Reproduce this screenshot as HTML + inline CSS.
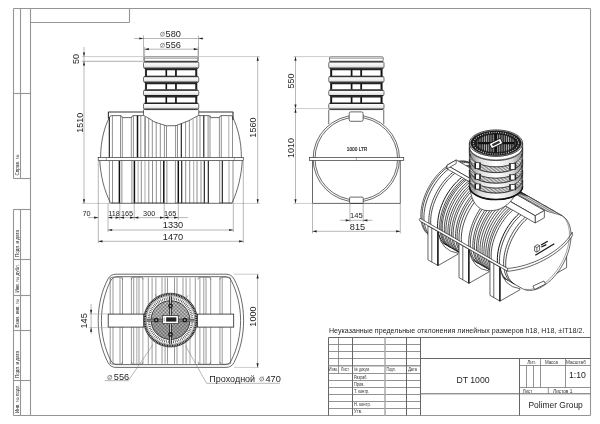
<!DOCTYPE html>
<html><head><meta charset="utf-8"><style>
html,body{margin:0;padding:0;background:#fff;width:600px;height:424px;overflow:hidden}
svg{display:block;filter:grayscale(1)}
text{font-family:"Liberation Sans",sans-serif;fill:#222}
.t{fill:#1e1e1e}
.ts{fill:#2a2a2a} .tsl{fill:#ddd}
.tph{fill:#999}
.tsm{fill:#333}
.tb{fill:#111;stroke:#111;stroke-width:0.15}
.fr{stroke:#959595;stroke-width:1.1;fill:none}
.o{stroke:#2a2a2a;stroke-width:0.7;fill:none}
.o2{stroke:#333;stroke-width:1.1;fill:none}
.bf{fill:#fff;stroke:none}
.bf2{fill:#fff;stroke:none}
.rb{stroke:#444;stroke-width:0.6}
.rbk{stroke:#151515;stroke-width:1.1}
.rbg{stroke:#aaa;stroke-width:1}
.rbK{stroke:#111;stroke-width:1.5}
.rbG{stroke:#999;stroke-width:1.8}
.th{stroke:#555;stroke-width:0.5}
.sh{stroke:#999;stroke-width:0.8}
.dk{stroke:#222;stroke-width:1}
.dk2{stroke:#222;stroke-width:1.5}
.thk{stroke:#111;stroke-width:1.6}
.nk{fill:#fff;stroke:#444;stroke-width:0.7}
.ring{fill:url(#rg);stroke:#333;stroke-width:0.7}
.box{fill:#fff;stroke:#333;stroke-width:0.7}
.boxm{fill:#f4f4f4;stroke:#555;stroke-width:0.5}
.belt{fill:#fff;stroke:#333;stroke-width:0.7}
.strap{fill:#fff;stroke:#222;stroke-width:0.8}
.rbp{stroke:#555;stroke-width:0.6;fill:none}
.dm{stroke:#7c7c7c;stroke-width:0.55;fill:none}
.ex{stroke:#aaa;stroke-width:0.6;fill:none}
.ex2{stroke:#777;stroke-width:0.6;fill:none}
.ar{fill:#222;stroke:none}
.sp{stroke:#222;stroke-width:2.6}
.spw{stroke:#eee;stroke-width:0.8}
.tb1{stroke:#666;stroke-width:1;fill:none}
.tbt{stroke:#777;stroke-width:0.8;fill:none}
.tbg{stroke:#aaa;stroke-width:1.5;fill:none}
.tbg2{stroke:#999;stroke-width:1.5;fill:none}
.io{stroke:#222;stroke-width:0.7;fill:none}
.ir{stroke:#111;stroke-width:0.75;fill:none}
.irk{stroke:#111;stroke-width:1.0;fill:none}
.ir2{stroke:#333;stroke-width:0.45;fill:none}
.iw{fill:#fff;stroke:#222;stroke-width:0.7}
.thk2{stroke:#111;stroke-width:1.1}
.lg{stroke:#333;stroke-width:0.9}
.hatchb{fill:url(#hb);stroke:#333;stroke-width:0.5}
</style></head><body>
<svg width="600" height="424" viewBox="0 0 600 424">
<defs>
<linearGradient id="rg" x1="0" y1="0" x2="0" y2="1"><stop offset="0" stop-color="#fff"/><stop offset="0.5" stop-color="#f2f2f2"/><stop offset="1" stop-color="#ccc"/></linearGradient>
<pattern id="dots" width="1.6" height="1.6" patternUnits="userSpaceOnUse"><rect width="1.6" height="1.6" fill="#bbb"/><rect width="0.8" height="0.8" fill="#555"/></pattern>
<pattern id="hatch" width="1.5" height="1.5" patternUnits="userSpaceOnUse"><rect width="1.5" height="1.5" fill="#999"/><rect width="0.7" height="0.7" fill="#444"/></pattern>
<linearGradient id="nrg" x1="0" y1="0" x2="1" y2="0"><stop offset="0" stop-color="#888"/><stop offset="0.2" stop-color="#ddd"/><stop offset="0.5" stop-color="#fff"/><stop offset="0.8" stop-color="#ddd"/><stop offset="1" stop-color="#888"/></linearGradient>
<linearGradient id="nrg2" x1="0" y1="0" x2="1" y2="0"><stop offset="0" stop-color="#999"/><stop offset="0.25" stop-color="#e4e4e4"/><stop offset="0.5" stop-color="#fff"/><stop offset="0.75" stop-color="#e4e4e4"/><stop offset="1" stop-color="#999"/></linearGradient>
<pattern id="lidp" width="2" height="2" patternUnits="userSpaceOnUse"><rect width="2" height="2" fill="#444"/><rect width="1" height="1" fill="#bbb"/></pattern>
<pattern id="hb" width="1.6" height="1.6" patternUnits="userSpaceOnUse" patternTransform="rotate(30)"><rect width="1.6" height="1.6" fill="#ddd"/><rect width="1.6" height="0.6" fill="#666"/></pattern>
<pattern id="nh" width="1.4" height="1.4" patternUnits="userSpaceOnUse" patternTransform="rotate(-20)"><rect width="1.4" height="1.4" fill="#e6e6e6"/><rect width="1.4" height="0.55" fill="#666"/></pattern>
<pattern id="lidst" width="2.2" height="4" patternUnits="userSpaceOnUse"><rect width="2.2" height="4" fill="#2a2a2a"/><rect width="0.8" height="4" fill="#bbb"/></pattern>
<pattern id="chk" width="1.4" height="1.4" patternUnits="userSpaceOnUse"><rect width="1.4" height="1.4" fill="#e8e8e8"/><rect width="0.7" height="0.7" fill="#555"/><rect x="0.7" y="0.7" width="0.7" height="0.7" fill="#555"/></pattern>
</defs>
<rect width="600" height="424" fill="#fff"/>
<line x1="13.5" y1="8.5" x2="590.5" y2="8.5" class="fr"/>
<line x1="590.5" y1="8.5" x2="590.5" y2="415.5" class="fr"/>
<line x1="13.5" y1="415.5" x2="590.5" y2="415.5" class="fr"/>
<line x1="30.5" y1="8.5" x2="30.5" y2="415.5" class="fr"/>
<line x1="13.5" y1="8.5" x2="13.5" y2="178.5" class="fr"/>
<line x1="13.5" y1="209.5" x2="13.5" y2="415.5" class="fr"/>
<line x1="20.5" y1="8.5" x2="20.5" y2="178.5" class="fr"/>
<line x1="20.5" y1="209.5" x2="20.5" y2="415.5" class="fr"/>
<line x1="13.5" y1="93.5" x2="30.5" y2="93.5" class="fr"/>
<line x1="13.5" y1="178.5" x2="30.5" y2="178.5" class="fr"/>
<line x1="13.5" y1="209.5" x2="30.5" y2="209.5" class="fr"/>
<line x1="13.5" y1="259.5" x2="30.5" y2="259.5" class="fr"/>
<line x1="13.5" y1="295.5" x2="30.5" y2="295.5" class="fr"/>
<line x1="13.5" y1="330.5" x2="30.5" y2="330.5" class="fr"/>
<line x1="13.5" y1="380.5" x2="30.5" y2="380.5" class="fr"/>
<line x1="30.5" y1="22.5" x2="129.5" y2="22.5" class="fr"/>
<line x1="129.5" y1="8.5" x2="129.5" y2="22.5" class="fr"/>
<text x="19.2" y="175.5" font-size="4.6" text-anchor="start" class="ts" transform="rotate(-90 19.2 175.5)" >Справ. №</text>
<text x="19.2" y="257" font-size="4.6" text-anchor="start" class="ts" transform="rotate(-90 19.2 257)" >Подп. и дата</text>
<text x="19.2" y="292.5" font-size="4.6" text-anchor="start" class="ts" transform="rotate(-90 19.2 292.5)" >Инв. № дубл.</text>
<text x="19.2" y="327.5" font-size="4.6" text-anchor="start" class="ts" transform="rotate(-90 19.2 327.5)" >Взам. инв. №</text>
<text x="19.2" y="378" font-size="4.6" text-anchor="start" class="ts" transform="rotate(-90 19.2 378)" >Подп. и дата</text>
<text x="19.2" y="413" font-size="4.6" text-anchor="start" class="ts" transform="rotate(-90 19.2 413)" >Инв. № подл.</text>
<path d="M109.5,116.5 C104,128 100.5,142 100.5,157 C100.5,172 104,190 110.5,203.3 L232.3,203.3 C238,190 241.5,172 241.5,157 C241.5,142 238,128 232.6,116.5 Z" class="bf" />
<path d="M109.3,117.5 C104.5,127 100.6,141 100.6,157.5" class="o" />
<path d="M99.8,160.6 C100.5,175 104,190 110.3,202.5" class="o" />
<path d="M232.8,117.5 C237.5,127 241.4,141 241.4,157.5" class="o" />
<path d="M242.3,160.6 C241.5,175 238,190 232.3,202.5" class="o" />
<path d="M109.4,118 Q109.6,115.6 111.6,115.6 L120.5,115.6 Q122,115.6 122.2,117.6 L131.5,117.6 Q131.7,115.6 133.5,115.6 L143.5,115.6" class="o" />
<path d="M198.75,115.6 L208.6,115.6 Q210.4,115.6 210.6,117.6 L219.4,117.6 Q219.6,115.6 221.4,115.6 L231,115.6 Q232.8,115.6 232.8,118" class="o" />
<path d="M143.5,109.6 L143.5,115.4 L146,116.7 L150,119 L153.8,121.6 L160,123.8 L166.5,125.8 L176,125.6 L182,123.3 L189,120.6 L194,117.8 L196.3,116.6 L198.75,115.4 L198.75,109.6" class="o" />
<line x1="109.3" y1="117.6" x2="109.3" y2="157.5" class="rbk"/>
<line x1="112.4" y1="115.6" x2="112.4" y2="157.5" class="rb"/>
<line x1="120.5" y1="115.6" x2="120.5" y2="157.5" class="rb"/>
<line x1="122.3" y1="117.6" x2="122.3" y2="157.5" class="rb"/>
<line x1="131.3" y1="117.6" x2="131.3" y2="157.5" class="rb"/>
<line x1="133.4" y1="115.6" x2="133.4" y2="157.5" class="rb"/>
<line x1="137.5" y1="115.6" x2="137.5" y2="157.5" class="rbK"/>
<line x1="140.8" y1="115.6" x2="140.8" y2="157.5" class="rb"/>
<line x1="145.1" y1="116.23" x2="145.1" y2="157.5" class="rbG"/>
<line x1="148.7" y1="118.25" x2="148.7" y2="157.5" class="rb"/>
<line x1="152.3" y1="120.57" x2="152.3" y2="157.5" class="rb"/>
<line x1="156.2" y1="122.45" x2="156.2" y2="157.5" class="rb"/>
<line x1="160.3" y1="123.89" x2="160.3" y2="157.5" class="rb"/>
<line x1="164.4" y1="125.15" x2="164.4" y2="157.5" class="rb"/>
<line x1="166.5" y1="125.8" x2="166.5" y2="157.5" class="rb"/>
<line x1="175.6" y1="125.61" x2="175.6" y2="157.5" class="rb"/>
<line x1="177.5" y1="125.02" x2="177.5" y2="157.5" class="rb"/>
<line x1="181.3" y1="123.57" x2="181.3" y2="157.5" class="rbk"/>
<line x1="185.6" y1="121.91" x2="185.6" y2="157.5" class="rb"/>
<line x1="189.4" y1="120.38" x2="189.4" y2="157.5" class="rb"/>
<line x1="193.1" y1="118.3" x2="193.1" y2="157.5" class="rbg"/>
<line x1="196.9" y1="116.31" x2="196.9" y2="157.5" class="rb"/>
<line x1="200" y1="115.6" x2="200" y2="157.5" class="rb"/>
<line x1="203.8" y1="115.6" x2="203.8" y2="157.5" class="rbk"/>
<line x1="208.1" y1="115.6" x2="208.1" y2="157.5" class="rb"/>
<line x1="210" y1="115.6" x2="210" y2="157.5" class="rb"/>
<line x1="219.4" y1="117.6" x2="219.4" y2="157.5" class="rb"/>
<line x1="221.3" y1="115.6" x2="221.3" y2="157.5" class="rb"/>
<line x1="228.8" y1="115.6" x2="228.8" y2="157.5" class="rbg"/>
<line x1="232.5" y1="115.6" x2="232.5" y2="157.5" class="rb"/>
<line x1="109.4" y1="160.6" x2="109.4" y2="203.3" class="rb"/>
<line x1="112.5" y1="160.6" x2="112.5" y2="203.3" class="rb"/>
<line x1="119.4" y1="160.6" x2="119.4" y2="203.3" class="rbK"/>
<line x1="121.9" y1="160.6" x2="121.9" y2="203.3" class="rb"/>
<line x1="131.9" y1="160.6" x2="131.9" y2="203.3" class="rb"/>
<line x1="134.4" y1="160.6" x2="134.4" y2="203.3" class="rbK"/>
<line x1="138.1" y1="160.6" x2="138.1" y2="203.3" class="rbg"/>
<line x1="141.3" y1="160.6" x2="141.3" y2="203.3" class="rb"/>
<line x1="145" y1="160.6" x2="145" y2="203.3" class="rbg"/>
<line x1="148.8" y1="160.6" x2="148.8" y2="203.3" class="rb"/>
<line x1="152.5" y1="160.6" x2="152.5" y2="203.3" class="rb"/>
<line x1="156.3" y1="160.6" x2="156.3" y2="203.3" class="rb"/>
<line x1="160.6" y1="160.6" x2="160.6" y2="203.3" class="rb"/>
<line x1="163.8" y1="160.6" x2="163.8" y2="203.3" class="rbK"/>
<line x1="166.9" y1="160.6" x2="166.9" y2="203.3" class="rb"/>
<line x1="175.4" y1="160.6" x2="175.4" y2="203.3" class="rb"/>
<line x1="178.3" y1="160.6" x2="178.3" y2="203.3" class="rbK"/>
<line x1="181.7" y1="160.6" x2="181.7" y2="203.3" class="rbk"/>
<line x1="185.7" y1="160.6" x2="185.7" y2="203.3" class="rb"/>
<line x1="189.7" y1="160.6" x2="189.7" y2="203.3" class="rb"/>
<line x1="193.7" y1="160.6" x2="193.7" y2="203.3" class="rbg"/>
<line x1="197" y1="160.6" x2="197" y2="203.3" class="rb"/>
<line x1="201" y1="160.6" x2="201" y2="203.3" class="rb"/>
<line x1="204.3" y1="160.6" x2="204.3" y2="203.3" class="rbk"/>
<line x1="208.3" y1="160.6" x2="208.3" y2="203.3" class="rbk"/>
<line x1="219.7" y1="160.6" x2="219.7" y2="203.3" class="rb"/>
<line x1="222.3" y1="160.6" x2="222.3" y2="203.3" class="rbk"/>
<line x1="229" y1="160.6" x2="229" y2="203.3" class="rbg"/>
<line x1="233" y1="160.6" x2="233" y2="203.3" class="rb"/>
<line x1="108.2" y1="112" x2="143.5" y2="112" class="o2"/>
<line x1="198.75" y1="112" x2="233.2" y2="112" class="o2"/>
<line x1="108.4" y1="112" x2="108.4" y2="118.6" class="o2"/>
<line x1="233" y1="112" x2="233" y2="120" class="o2"/>
<rect x="98.2" y="157.6" width="145.1" height="3" rx="0" class="belt" />
<line x1="106.3" y1="157.6" x2="106.3" y2="160.6" class="th"/>
<line x1="234.3" y1="157.6" x2="234.3" y2="160.6" class="th"/>
<line x1="110.3" y1="203.3" x2="232.4" y2="203.3" class="o"/>
<line x1="110.5" y1="202.6" x2="120.5" y2="202.6" class="th"/>
<line x1="133.8" y1="202.6" x2="164" y2="202.6" class="th"/>
<line x1="175.5" y1="202.6" x2="208.2" y2="202.6" class="th"/>
<line x1="219.6" y1="202.6" x2="232.4" y2="202.6" class="th"/>
<rect x="144.3" y="56.8" width="53.65" height="4.4" rx="1" class="nk" />
<line x1="144.7" y1="58.3" x2="197.55" y2="58.3" class="th"/>
<rect x="145.3" y="68.6" width="51.65" height="7.6" rx="0" class="box" />
<rect x="166.6" y="68.6" width="9.1" height="7.6" rx="0" class="box" />
<line x1="146.1" y1="68.6" x2="146.1" y2="76.2" class="thk"/>
<line x1="166.3" y1="68.6" x2="166.3" y2="76.2" class="thk"/>
<line x1="176" y1="68.6" x2="176" y2="76.2" class="thk"/>
<line x1="196.1" y1="68.6" x2="196.1" y2="76.2" class="thk"/>
<line x1="145.5" y1="69.4" x2="196.75" y2="69.4" class="dk2"/>
<rect x="145.3" y="82.6" width="51.65" height="7.2" rx="0" class="box" />
<rect x="166.6" y="82.6" width="9.1" height="7.2" rx="0" class="box" />
<line x1="146.1" y1="82.6" x2="146.1" y2="89.8" class="thk"/>
<line x1="166.3" y1="82.6" x2="166.3" y2="89.8" class="thk"/>
<line x1="176" y1="82.6" x2="176" y2="89.8" class="thk"/>
<line x1="196.1" y1="82.6" x2="196.1" y2="89.8" class="thk"/>
<line x1="145.5" y1="83.4" x2="196.75" y2="83.4" class="dk2"/>
<rect x="145.3" y="96" width="51.65" height="7" rx="0" class="box" />
<rect x="166.6" y="96" width="9.1" height="7" rx="0" class="box" />
<line x1="146.1" y1="96" x2="146.1" y2="103" class="thk"/>
<line x1="166.3" y1="96" x2="166.3" y2="103" class="thk"/>
<line x1="176" y1="96" x2="176" y2="103" class="thk"/>
<line x1="196.1" y1="96" x2="196.1" y2="103" class="thk"/>
<line x1="145.5" y1="96.8" x2="196.75" y2="96.8" class="dk2"/>
<rect x="143.5" y="61.5" width="55.25" height="7.1" rx="1.8" class="ring" />
<line x1="144.5" y1="62" x2="197.75" y2="62" class="dk"/>
<line x1="144.5" y1="68.1" x2="197.75" y2="68.1" class="dk"/>
<rect x="143.5" y="76.2" width="55.25" height="6.4" rx="1.8" class="ring" />
<line x1="144.5" y1="76.7" x2="197.75" y2="76.7" class="dk"/>
<line x1="144.5" y1="82.1" x2="197.75" y2="82.1" class="dk"/>
<rect x="143.5" y="89.8" width="55.25" height="6.2" rx="1.8" class="ring" />
<line x1="144.5" y1="90.3" x2="197.75" y2="90.3" class="dk"/>
<line x1="144.5" y1="95.5" x2="197.75" y2="95.5" class="dk"/>
<rect x="143.5" y="103" width="55.25" height="6.6" rx="1.8" class="ring" />
<line x1="144.5" y1="103.5" x2="197.75" y2="103.5" class="dk"/>
<line x1="144.5" y1="109.1" x2="197.75" y2="109.1" class="dk"/>
<line x1="134" y1="38.5" x2="203.5" y2="38.5" class="dm"/>
<path d="M143.5,38.5 L139.3,39.6 L139.3,37.4 Z" class="ar"/>
<path d="M198.5,38.5 L202.7,37.4 L202.7,39.6 Z" class="ar"/>
<line x1="143.5" y1="35.5" x2="143.5" y2="61" class="dm"/>
<line x1="198.5" y1="35.5" x2="198.5" y2="61" class="dm"/>
<text x="173.2" y="36.7" font-size="9.2" text-anchor="middle" class="t" >580</text>
<circle cx="162.5" cy="34.2" r="2" fill="none" stroke="#8a8a8a" stroke-width="0.95"/>
<line x1="160.7" y1="36.7" x2="164.3" y2="31.7" stroke="#8a8a8a" stroke-width="0.7"/>
<line x1="144.6" y1="49.2" x2="198" y2="49.2" class="dm"/>
<path d="M144.6,49.2 L148.8,48.1 L148.8,50.3 Z" class="ar"/>
<path d="M198,49.2 L193.8,50.3 L193.8,48.1 Z" class="ar"/>
<line x1="144.6" y1="47" x2="144.6" y2="57" class="dm"/>
<line x1="198" y1="47" x2="198" y2="57" class="dm"/>
<text x="173.2" y="47.8" font-size="9.2" text-anchor="middle" class="t" >556</text>
<circle cx="162.5" cy="45.3" r="2" fill="none" stroke="#8a8a8a" stroke-width="0.95"/>
<line x1="160.7" y1="47.8" x2="164.3" y2="42.8" stroke="#8a8a8a" stroke-width="0.7"/>
<line x1="82" y1="56.6" x2="143.5" y2="56.6" class="ex"/>
<line x1="198.5" y1="56.6" x2="260" y2="56.6" class="ex"/>
<line x1="82" y1="61.3" x2="143.5" y2="61.3" class="ex2"/>
<line x1="82" y1="203.4" x2="110" y2="203.4" class="ex"/>
<line x1="232" y1="203.4" x2="260" y2="203.4" class="ex"/>
<line x1="84" y1="47" x2="84" y2="203.4" class="dm"/>
<path d="M84,56.6 L82.9,52.4 L85.1,52.4 Z" class="ar"/>
<path d="M84,61.3 L85.1,65.5 L82.9,65.5 Z" class="ar"/>
<path d="M84,203.4 L82.9,199.2 L85.1,199.2 Z" class="ar"/>
<text x="78.9" y="59" font-size="9" text-anchor="middle" class="t" transform="rotate(-90 78.9 59)" >50</text>
<text x="82.8" y="122.7" font-size="9" text-anchor="middle" class="t" transform="rotate(-90 82.8 122.7)" >1510</text>
<line x1="257.7" y1="56.6" x2="257.7" y2="203.4" class="dm"/>
<path d="M257.7,56.6 L258.8,60.8 L256.6,60.8 Z" class="ar"/>
<path d="M257.7,203.4 L256.6,199.2 L258.8,199.2 Z" class="ar"/>
<text x="256.4" y="127.6" font-size="9" text-anchor="middle" class="t" transform="rotate(-90 256.4 127.6)" >1560</text>
<line x1="98.3" y1="160.6" x2="98.3" y2="243" class="dm"/>
<line x1="108" y1="203.4" x2="108" y2="232" class="dm"/>
<line x1="119.8" y1="203.4" x2="119.8" y2="220" class="dm"/>
<line x1="134.2" y1="203.4" x2="134.2" y2="220" class="dm"/>
<line x1="164.2" y1="203.4" x2="164.2" y2="220" class="dm"/>
<line x1="178.3" y1="203.4" x2="178.3" y2="220" class="dm"/>
<line x1="233.3" y1="203.4" x2="233.3" y2="232" class="dm"/>
<line x1="243.3" y1="160.6" x2="243.3" y2="243" class="dm"/>
<line x1="88" y1="217.6" x2="98.3" y2="217.6" class="dm"/>
<path d="M98.3,217.6 L94.1,218.7 L94.1,216.5 Z" class="ar"/>
<line x1="108" y1="217.6" x2="188" y2="217.6" class="dm"/>
<path d="M108,217.6 L112.2,216.5 L112.2,218.7 Z" class="ar"/>
<path d="M119.8,217.6 L115.6,218.7 L115.6,216.5 Z" class="ar"/>
<path d="M119.8,217.6 L124,216.5 L124,218.7 Z" class="ar"/>
<path d="M134.2,217.6 L130,218.7 L130,216.5 Z" class="ar"/>
<path d="M134.2,217.6 L138.4,216.5 L138.4,218.7 Z" class="ar"/>
<path d="M164.2,217.6 L160,218.7 L160,216.5 Z" class="ar"/>
<path d="M164.2,217.6 L168.4,216.5 L168.4,218.7 Z" class="ar"/>
<path d="M178.3,217.6 L174.1,218.7 L174.1,216.5 Z" class="ar"/>
<text x="86.5" y="216.3" font-size="7.3" text-anchor="middle" class="t" >70</text>
<text x="114" y="216.3" font-size="7.3" text-anchor="middle" class="t" >118</text>
<text x="127" y="216.3" font-size="7.3" text-anchor="middle" class="t" >165</text>
<text x="149.2" y="216.3" font-size="7.3" text-anchor="middle" class="t" >300</text>
<text x="170.2" y="216.3" font-size="7.3" text-anchor="middle" class="t" >165</text>
<line x1="108" y1="230" x2="233.3" y2="230" class="dm"/>
<path d="M108,230 L112.2,228.9 L112.2,231.1 Z" class="ar"/>
<path d="M233.3,230 L229.1,231.1 L229.1,228.9 Z" class="ar"/>
<text x="173" y="228.4" font-size="9.2" text-anchor="middle" class="t" >1330</text>
<line x1="98.3" y1="241.3" x2="243.3" y2="241.3" class="dm"/>
<path d="M98.3,241.3 L102.5,240.2 L102.5,242.4 Z" class="ar"/>
<path d="M243.3,241.3 L239.1,242.4 L239.1,240.2 Z" class="ar"/>
<text x="173" y="239.8" font-size="9.2" text-anchor="middle" class="t" >1470</text>
<rect x="312.5" y="160.6" width="88" height="42.8" rx="0" class="bf2" />
<circle cx="356.3" cy="158.6" r="43.2" class="o" fill="#fff"/>
<circle cx="356.3" cy="158.6" r="41.3" class="o" fill="#fff"/>
<line x1="328.75" y1="109.8" x2="328.75" y2="124.2" class="o"/>
<line x1="383.75" y1="109.8" x2="383.75" y2="124.2" class="o"/>
<rect x="349.2" y="111.9" width="13.9" height="9.4" rx="1.5" class="o" style="fill:#fff"/>
<rect x="349.6" y="197.1" width="13.6" height="6.3" rx="0.8" class="o" style="fill:#fff"/>
<rect x="309.4" y="157.6" width="94.3" height="3" rx="0" class="belt" />
<line x1="356.3" y1="157.6" x2="356.3" y2="160.6" class="th"/>
<line x1="312.5" y1="160.6" x2="312.5" y2="203.4" class="o"/>
<line x1="400.3" y1="160.6" x2="400.3" y2="203.4" class="o"/>
<line x1="312.5" y1="203.4" x2="400.3" y2="203.4" class="o"/>
<text x="357" y="151.2" font-size="6.0" text-anchor="middle" class="tb" textLength="20.5" lengthAdjust="spacingAndGlyphs">1000 LTR</text>
<rect x="329.55" y="56.8" width="53.65" height="4.4" rx="1" class="nk" />
<line x1="329.95" y1="58.3" x2="382.8" y2="58.3" class="th"/>
<rect x="330.55" y="68.6" width="51.65" height="7.6" rx="0" class="box" />
<rect x="351.85" y="68.6" width="9.1" height="7.6" rx="0" class="box" />
<line x1="331.35" y1="68.6" x2="331.35" y2="76.2" class="thk"/>
<line x1="351.55" y1="68.6" x2="351.55" y2="76.2" class="thk"/>
<line x1="361.25" y1="68.6" x2="361.25" y2="76.2" class="thk"/>
<line x1="381.35" y1="68.6" x2="381.35" y2="76.2" class="thk"/>
<line x1="330.75" y1="69.4" x2="382" y2="69.4" class="dk2"/>
<rect x="330.55" y="82.6" width="51.65" height="7.2" rx="0" class="box" />
<rect x="351.85" y="82.6" width="9.1" height="7.2" rx="0" class="box" />
<line x1="331.35" y1="82.6" x2="331.35" y2="89.8" class="thk"/>
<line x1="351.55" y1="82.6" x2="351.55" y2="89.8" class="thk"/>
<line x1="361.25" y1="82.6" x2="361.25" y2="89.8" class="thk"/>
<line x1="381.35" y1="82.6" x2="381.35" y2="89.8" class="thk"/>
<line x1="330.75" y1="83.4" x2="382" y2="83.4" class="dk2"/>
<rect x="330.55" y="96" width="51.65" height="7" rx="0" class="box" />
<rect x="351.85" y="96" width="9.1" height="7" rx="0" class="box" />
<line x1="331.35" y1="96" x2="331.35" y2="103" class="thk"/>
<line x1="351.55" y1="96" x2="351.55" y2="103" class="thk"/>
<line x1="361.25" y1="96" x2="361.25" y2="103" class="thk"/>
<line x1="381.35" y1="96" x2="381.35" y2="103" class="thk"/>
<line x1="330.75" y1="96.8" x2="382" y2="96.8" class="dk2"/>
<rect x="328.75" y="61.5" width="55.25" height="7.1" rx="1.8" class="ring" />
<line x1="329.75" y1="62" x2="383" y2="62" class="dk"/>
<line x1="329.75" y1="68.1" x2="383" y2="68.1" class="dk"/>
<rect x="328.75" y="76.2" width="55.25" height="6.4" rx="1.8" class="ring" />
<line x1="329.75" y1="76.7" x2="383" y2="76.7" class="dk"/>
<line x1="329.75" y1="82.1" x2="383" y2="82.1" class="dk"/>
<rect x="328.75" y="89.8" width="55.25" height="6.2" rx="1.8" class="ring" />
<line x1="329.75" y1="90.3" x2="383" y2="90.3" class="dk"/>
<line x1="329.75" y1="95.5" x2="383" y2="95.5" class="dk"/>
<rect x="328.75" y="103" width="55.25" height="6.6" rx="1.8" class="ring" />
<line x1="329.75" y1="103.5" x2="383" y2="103.5" class="dk"/>
<line x1="329.75" y1="109.1" x2="383" y2="109.1" class="dk"/>
<line x1="293.5" y1="56.6" x2="330" y2="56.6" class="ex"/>
<line x1="293.5" y1="108.6" x2="328.75" y2="108.6" class="ex"/>
<line x1="293.5" y1="203.4" x2="312.5" y2="203.4" class="ex"/>
<line x1="295.5" y1="56.6" x2="295.5" y2="203.4" class="dm"/>
<path d="M295.5,56.6 L296.6,60.8 L294.4,60.8 Z" class="ar"/>
<path d="M295.5,108.6 L294.4,104.4 L296.6,104.4 Z" class="ar"/>
<path d="M295.5,108.6 L296.6,112.8 L294.4,112.8 Z" class="ar"/>
<path d="M295.5,203.4 L294.4,199.2 L296.6,199.2 Z" class="ar"/>
<text x="294" y="81" font-size="9" text-anchor="middle" class="t" transform="rotate(-90 294 81)" >550</text>
<text x="294" y="148" font-size="9" text-anchor="middle" class="t" transform="rotate(-90 294 148)" >1010</text>
<line x1="349.9" y1="203.4" x2="349.9" y2="222" class="dm"/>
<line x1="363.2" y1="203.4" x2="363.2" y2="222" class="dm"/>
<line x1="340" y1="220.3" x2="372.5" y2="220.3" class="dm"/>
<path d="M349.9,220.3 L345.7,221.4 L345.7,219.2 Z" class="ar"/>
<path d="M363.2,220.3 L367.4,219.2 L367.4,221.4 Z" class="ar"/>
<text x="356.4" y="217.9" font-size="7.6" text-anchor="middle" class="t" >145</text>
<line x1="312.5" y1="203.4" x2="312.5" y2="233.5" class="dm"/>
<line x1="400.3" y1="203.4" x2="400.3" y2="233.5" class="dm"/>
<line x1="312.5" y1="231.3" x2="400.3" y2="231.3" class="dm"/>
<path d="M312.5,231.3 L316.7,230.2 L316.7,232.4 Z" class="ar"/>
<path d="M400.3,231.3 L396.1,232.4 L396.1,230.2 Z" class="ar"/>
<text x="357.5" y="229.8" font-size="9.2" text-anchor="middle" class="t" >815</text>
<path d="M116,274.2 L226,274.2 Q231.5,274.2 234,279 C240,290 243.6,305 243.6,320.5 C243.6,336 240,351 234,362.5 Q231.5,367.4 226,367.4 L116,367.4 Q110.5,367.4 108,362.5 C102,351 98.2,336 98.2,320.5 C98.2,305 102,290 108,279 Q110.5,274.2 116,274.2 Z" class="o" style="fill:#fff"/>
<path d="M117,276.7 L225,276.7 Q229.5,276.7 231.5,281 C237,292 240.6,306 240.6,320.5 C240.6,335 237,349 231.5,360 Q229.5,364.6 225,364.6 L117,364.6 Q112.5,364.6 110.5,360 C105,349 101.4,335 101.4,320.5 C101.4,306 105,292 110.5,281 Q112.5,276.7 117,276.7 Z" class="o" />
<line x1="110.2" y1="277.6" x2="110.2" y2="363.8" class="rbp"/>
<line x1="113" y1="277.6" x2="113" y2="363.8" class="rbp"/>
<line x1="120" y1="277.6" x2="120" y2="363.8" class="rbp"/>
<line x1="122.5" y1="277.6" x2="122.5" y2="363.8" class="rbp"/>
<line x1="131.4" y1="277.6" x2="131.4" y2="363.8" class="rbp"/>
<line x1="133.7" y1="277.6" x2="133.7" y2="363.8" class="rbp"/>
<line x1="136.8" y1="277.6" x2="136.8" y2="363.8" class="rbg"/>
<line x1="139" y1="277.6" x2="139" y2="363.8" class="rbp"/>
<line x1="142.9" y1="277.6" x2="142.9" y2="363.8" class="rbg"/>
<line x1="148.3" y1="277.6" x2="148.3" y2="363.8" class="rbp"/>
<line x1="152.1" y1="277.6" x2="152.1" y2="363.8" class="rbp"/>
<line x1="155.9" y1="277.6" x2="155.9" y2="363.8" class="rbp"/>
<line x1="162" y1="277.6" x2="162" y2="363.8" class="rbp"/>
<line x1="165.1" y1="277.6" x2="165.1" y2="363.8" class="rbp"/>
<line x1="167.5" y1="277.6" x2="167.5" y2="363.8" class="rbp"/>
<line x1="174.5" y1="277.6" x2="174.5" y2="363.8" class="rbp"/>
<line x1="177" y1="277.6" x2="177" y2="363.8" class="rbp"/>
<line x1="183" y1="277.6" x2="183" y2="363.8" class="rbp"/>
<line x1="186.1" y1="277.6" x2="186.1" y2="363.8" class="rbp"/>
<line x1="190" y1="277.6" x2="190" y2="363.8" class="rbg"/>
<line x1="195.3" y1="277.6" x2="195.3" y2="363.8" class="rbp"/>
<line x1="199.9" y1="277.6" x2="199.9" y2="363.8" class="rbp"/>
<line x1="203.8" y1="277.6" x2="203.8" y2="363.8" class="rbp"/>
<line x1="206" y1="277.6" x2="206" y2="363.8" class="rbp"/>
<line x1="210.7" y1="277.6" x2="210.7" y2="363.8" class="rbp"/>
<line x1="219.9" y1="277.6" x2="219.9" y2="363.8" class="rbp"/>
<line x1="222.2" y1="277.6" x2="222.2" y2="363.8" class="rbp"/>
<line x1="230.6" y1="277.6" x2="230.6" y2="363.8" class="rbp"/>
<path d="M110.2,279.5 Q110.2,277.2 112.2,277.2 L120.5,277.2 Q122.5,277.2 122.5,279.5" class="rbp" />
<path d="M110.2,361.8 Q110.2,364.2 112.2,364.2 L120.5,364.2 Q122.5,364.2 122.5,361.8" class="rbp" />
<path d="M131.4,279.5 Q131.4,277.2 133.4,277.2 L141,277.2 Q143,277.2 143,279.5" class="rbp" />
<path d="M131.4,361.8 Q131.4,364.2 133.4,364.2 L141,364.2 Q143,364.2 143,361.8" class="rbp" />
<path d="M198,279.5 Q198,277.2 200,277.2 L208.7,277.2 Q210.7,277.2 210.7,279.5" class="rbp" />
<path d="M198,361.8 Q198,364.2 200,364.2 L208.7,364.2 Q210.7,364.2 210.7,361.8" class="rbp" />
<path d="M219.9,279.5 Q219.9,277.2 221.9,277.2 L228.6,277.2 Q230.6,277.2 230.6,279.5" class="rbp" />
<path d="M219.9,361.8 Q219.9,364.2 221.9,364.2 L228.6,364.2 Q230.6,364.2 230.6,361.8" class="rbp" />
<rect x="108.2" y="314.1" width="35.6" height="13" rx="0" class="strap" />
<rect x="197.4" y="314.1" width="36.3" height="13" rx="0" class="strap" />
<circle cx="170.5" cy="320.1" r="26.9" fill="#fff" stroke="#333" stroke-width="0.8"/>
<circle cx="170.5" cy="320.1" r="25.7" fill="#fff" stroke="#222" stroke-width="1.9" stroke-dasharray="1.2 0.5"/>
<circle cx="170.5" cy="320.1" r="24.3" fill="none" stroke="#333" stroke-width="0.5"/>
<circle cx="170.5" cy="320.1" r="21.8" fill="none" stroke="#3a3a3a" stroke-width="2.6" stroke-dasharray="0.7 1.1"/>
<circle cx="170.5" cy="320.1" r="19.4" fill="url(#chk)" stroke="#222" stroke-width="0.9"/>
<path d="M151.1,320.1 A19.4,19.4 0 0 0 189.9,320.1 Z" fill="#555" fill-opacity="0.25"/>
<line x1="174.5" y1="320.1" x2="194.3" y2="320.1" class="sp"/>
<line x1="174.5" y1="320.1" x2="194.3" y2="320.1" class="spw"/>
<circle cx="184.8" cy="320.1" r="2.4" fill="#1a1a1a"/>
<circle cx="184.8" cy="320.1" r="0.9" fill="#bbb"/>
<line x1="170.5" y1="324.1" x2="170.5" y2="343.9" class="sp"/>
<line x1="170.5" y1="324.1" x2="170.5" y2="343.9" class="spw"/>
<circle cx="170.5" cy="334.4" r="2.4" fill="#1a1a1a"/>
<circle cx="170.5" cy="334.4" r="0.9" fill="#bbb"/>
<line x1="166.5" y1="320.1" x2="146.7" y2="320.1" class="sp"/>
<line x1="166.5" y1="320.1" x2="146.7" y2="320.1" class="spw"/>
<circle cx="156.2" cy="320.1" r="2.4" fill="#1a1a1a"/>
<circle cx="156.2" cy="320.1" r="0.9" fill="#bbb"/>
<line x1="170.5" y1="316.1" x2="170.5" y2="296.3" class="sp"/>
<line x1="170.5" y1="316.1" x2="170.5" y2="296.3" class="spw"/>
<circle cx="170.5" cy="305.8" r="2.4" fill="#1a1a1a"/>
<circle cx="170.5" cy="305.8" r="0.9" fill="#bbb"/>
<rect x="162.7" y="315.6" width="15.6" height="8" rx="0" class="o" style="fill:#fff" stroke-width="1.3"/>
<rect x="166.5" y="317.8" width="9.5" height="3.4" rx="0" class="o" style="fill:#222" stroke-width="0.3"/>
<line x1="164.2" y1="317.5" x2="164.2" y2="321.5" class="th"/>
<line x1="185.89" y1="298.65" x2="188.28" y2="295.32" class="dm"/>
<line x1="157.15" y1="297.32" x2="155.08" y2="293.78" class="dm"/>
<line x1="104.6" y1="380.7" x2="128.3" y2="380.7" class="dm"/>
<line x1="128.3" y1="380.7" x2="153" y2="344.5" class="dm"/>
<circle cx="109.8" cy="377.4" r="2" fill="none" stroke="#8a8a8a" stroke-width="0.95"/>
<line x1="108" y1="379.9" x2="111.6" y2="374.9" stroke="#8a8a8a" stroke-width="0.7"/>
<text x="113.8" y="379.9" font-size="9.2" text-anchor="start" class="t" >556</text>
<line x1="206.6" y1="383.3" x2="280" y2="383.3" class="dm"/>
<line x1="206.6" y1="383.3" x2="185.5" y2="345.7" class="dm"/>
<text x="209.3" y="381.5" font-size="9" text-anchor="start" class="t" >Проходной</text>
<circle cx="261.7" cy="379" r="2" fill="none" stroke="#8a8a8a" stroke-width="0.95"/>
<line x1="259.9" y1="381.5" x2="263.5" y2="376.5" stroke="#8a8a8a" stroke-width="0.7"/>
<text x="265.5" y="381.5" font-size="9.2" text-anchor="start" class="t" >470</text>
<line x1="89" y1="314" x2="108" y2="314" class="ex"/>
<line x1="89" y1="327.6" x2="108" y2="327.6" class="ex"/>
<line x1="91.1" y1="303.8" x2="91.1" y2="333.7" class="dm"/>
<path d="M91.1,314 L90,309.8 L92.2,309.8 Z" class="ar"/>
<path d="M91.1,327.6 L92.2,331.8 L90,331.8 Z" class="ar"/>
<text x="87.2" y="320.9" font-size="9.2" text-anchor="middle" class="t" transform="rotate(-90 87.2 320.9)" >145</text>
<line x1="234" y1="274.2" x2="259" y2="274.2" class="ex"/>
<line x1="234" y1="367.4" x2="259" y2="367.4" class="ex"/>
<line x1="257.6" y1="274.2" x2="257.6" y2="367.4" class="dm"/>
<path d="M257.6,274.2 L258.7,278.4 L256.5,278.4 Z" class="ar"/>
<path d="M257.6,367.4 L256.5,363.2 L258.7,363.2 Z" class="ar"/>
<text x="255.9" y="316.6" font-size="9" text-anchor="middle" class="t" transform="rotate(-90 255.9 316.6)" >1000</text>
<text x="329" y="332.7" font-size="7.05" text-anchor="start" class="t" textLength="255.4" lengthAdjust="spacing">Неуказанные предельные отклонения линейных размеров h18, H18,  ±IT18/2.</text>
<line x1="328.5" y1="337.5" x2="590.5" y2="337.5" class="tb1"/>
<line x1="328.5" y1="337.5" x2="328.5" y2="415.5" class="tb1"/>
<line x1="328.5" y1="344.5" x2="420.5" y2="344.5" class="tbt"/>
<line x1="328.5" y1="351.5" x2="420.5" y2="351.5" class="tbt"/>
<line x1="328.5" y1="358.5" x2="420.5" y2="358.5" class="tbt"/>
<line x1="328.5" y1="373.5" x2="420.5" y2="373.5" class="tbt"/>
<line x1="328.5" y1="380.5" x2="420.5" y2="380.5" class="tbt"/>
<line x1="328.5" y1="387.5" x2="420.5" y2="387.5" class="tbt"/>
<line x1="328.5" y1="394.5" x2="420.5" y2="394.5" class="tbt"/>
<line x1="328.5" y1="401.5" x2="420.5" y2="401.5" class="tbt"/>
<line x1="328.5" y1="408.5" x2="420.5" y2="408.5" class="tbt"/>
<line x1="328.5" y1="365.8" x2="420.5" y2="365.8" class="tbg2"/>
<line x1="338.5" y1="337.5" x2="338.5" y2="373.5" class="tbt"/>
<line x1="352.5" y1="337.5" x2="352.5" y2="415.5" class="tb1"/>
<line x1="385" y1="337.5" x2="385" y2="415.5" class="tbg"/>
<line x1="406.5" y1="337.5" x2="406.5" y2="415.5" class="tb1"/>
<line x1="420.5" y1="337.5" x2="420.5" y2="415.5" class="tb1"/>
<line x1="420.5" y1="358.5" x2="590.5" y2="358.5" class="tb1"/>
<line x1="420.5" y1="393.8" x2="590.5" y2="393.8" class="tb1"/>
<line x1="519.5" y1="358.5" x2="519.5" y2="415.5" class="tb1"/>
<line x1="519.5" y1="365.5" x2="590.5" y2="365.5" class="tbt"/>
<line x1="519.5" y1="387.5" x2="590.5" y2="387.5" class="tbt"/>
<line x1="540.5" y1="358.5" x2="540.5" y2="387.5" class="tbt"/>
<line x1="565.5" y1="358.5" x2="565.5" y2="387.5" class="tbt"/>
<line x1="526.5" y1="365.5" x2="526.5" y2="387.5" class="tbt"/>
<line x1="533.5" y1="365.5" x2="533.5" y2="387.5" class="tbt"/>
<line x1="548.3" y1="387.5" x2="548.3" y2="393.8" class="tbt"/>
<text x="328.6" y="370.8" font-size="5.0" text-anchor="start" class="tsm" textLength="9.2" lengthAdjust="spacingAndGlyphs">Изм.</text>
<text x="341" y="370.8" font-size="5.0" text-anchor="start" class="tsm" textLength="8" lengthAdjust="spacingAndGlyphs">Лист</text>
<text x="354" y="370.8" font-size="5.0" text-anchor="start" class="tsm" textLength="16" lengthAdjust="spacingAndGlyphs">№ докум.</text>
<text x="386.4" y="370.8" font-size="5.0" text-anchor="start" class="tsm" textLength="9.3" lengthAdjust="spacingAndGlyphs">Подп.</text>
<text x="408.2" y="370.8" font-size="5.0" text-anchor="start" class="tsm" textLength="8.7" lengthAdjust="spacingAndGlyphs">Дата</text>
<text x="354" y="378.6" font-size="5.0" text-anchor="start" class="tsm" textLength="13.5" lengthAdjust="spacingAndGlyphs">Разраб.</text>
<text x="354" y="385.8" font-size="5.0" text-anchor="start" class="tsm" textLength="10.5" lengthAdjust="spacingAndGlyphs">Пров.</text>
<text x="354" y="392.5" font-size="5.0" text-anchor="start" class="tsm" textLength="15.3" lengthAdjust="spacingAndGlyphs">Т. контр.</text>
<text x="354" y="406.2" font-size="5.0" text-anchor="start" class="tsm" textLength="16.9" lengthAdjust="spacingAndGlyphs">Н. контр.</text>
<text x="354" y="413" font-size="5.0" text-anchor="start" class="tsm" textLength="8.1" lengthAdjust="spacingAndGlyphs">Утв.</text>
<text x="527.2" y="363.6" font-size="5.0" text-anchor="start" class="tsm" textLength="8.7" lengthAdjust="spacingAndGlyphs">Лит.</text>
<text x="544.9" y="363.6" font-size="5.0" text-anchor="start" class="tsm" textLength="13.1" lengthAdjust="spacingAndGlyphs">Масса</text>
<text x="566" y="363.6" font-size="5.0" text-anchor="start" class="tsm" textLength="19.8" lengthAdjust="spacingAndGlyphs">Масштаб</text>
<text x="522.7" y="392.5" font-size="5.0" text-anchor="start" class="tsm" textLength="9.5" lengthAdjust="spacingAndGlyphs">Лист</text>
<text x="553.1" y="392.5" font-size="5.0" text-anchor="start" class="tsm" textLength="19.2" lengthAdjust="spacingAndGlyphs">Листов 1</text>
<text x="577.4" y="378.2" font-size="8.7" text-anchor="middle" class="t" >1:10</text>
<text x="473" y="383.2" font-size="8.7" text-anchor="middle" class="t" >DT 1000</text>
<text x="555.6" y="408.4" font-size="8.45" text-anchor="middle" class="t" >Polimer Group</text>
<path d="M566.6,252 L566.6,267.6 L550,277 L545,268 Z" class="iw" />
<path d="M562.08,215.67 L563.15,216.35 L564.16,217.12 L565.10,217.99 L565.99,218.96 L566.81,220.01 L567.56,221.16 L568.24,222.38 L568.85,223.69 L569.39,225.08 L569.85,226.54 L570.24,228.07 L570.55,229.67 L570.78,231.33 L570.93,233.04 L571.01,234.81 L571.00,236.62 L570.92,238.48 L570.75,240.37 L570.51,242.30 L570.19,244.25 L569.80,246.23 L569.32,248.22 L568.78,250.22 L568.16,252.22 L567.46,254.23 L566.70,256.23 L565.87,258.22 L564.98,260.19 L564.02,262.14 L563.01,264.06 L561.93,265.95 L560.81,267.80 L559.63,269.61 L558.40,271.37 L557.13,273.08 L555.82,274.73 L554.46,276.32 L553.08,277.84 L551.67,279.29 L550.23,280.67 L548.76,281.96 L547.28,283.18 L545.79,284.31 L544.28,285.35 L542.77,286.30 L541.26,287.16 L539.75,287.92 L538.24,288.59 L536.75,289.15 L535.27,289.61 L533.81,289.97 L532.37,290.22 L530.96,290.37 L529.58,290.42 L528.24,290.36 L526.93,290.20 L525.66,289.93 L524.44,289.55 L523.27,289.08 L522.15,288.50 L429.73,235.52 L428.66,234.84 L427.65,234.07 L426.70,233.20 L425.82,232.23 L425.00,231.18 L424.25,230.04 L423.56,228.81 L422.95,227.50 L422.42,226.11 L421.95,224.65 L421.57,223.12 L421.26,221.53 L421.03,219.87 L420.87,218.15 L420.80,216.39 L420.81,214.57 L420.89,212.71 L421.05,210.82 L421.30,208.89 L421.62,206.94 L422.01,204.97 L422.48,202.98 L423.03,200.97 L423.65,198.97 L424.34,196.96 L425.10,194.96 L425.93,192.97 L426.83,191.00 L427.78,189.05 L428.80,187.13 L429.87,185.24 L431.00,183.39 L432.18,181.58 L433.41,179.82 L434.68,178.11 L435.99,176.46 L437.34,174.88 L438.73,173.35 L440.14,171.90 L441.58,170.53 L443.05,169.23 L444.53,168.01 L446.02,166.88 L447.53,165.84 L449.04,164.89 L450.55,164.03 L452.06,163.27 L453.57,162.61 L455.06,162.04 L456.54,161.58 L458.00,161.22 L459.44,160.97 L460.85,160.82 L462.23,160.77 L463.57,160.83 L464.88,161.00 L466.15,161.27 L467.37,161.64 L468.54,162.12 L469.66,162.69 Z" class="iw" />
<path d="M470.87,163.39 L469.17,162.56 L467.36,161.96 L465.44,161.60 L463.44,161.47 L461.36,161.58 L459.21,161.92 L457.01,162.50 L454.78,163.30 L452.52,164.33 L450.25,165.59 L447.99,167.05 L445.74,168.71 L443.52,170.56 L441.36,172.60 L439.24,174.80 L437.21,177.16 L435.25,179.66 L433.39,182.28 L431.64,185.01 L430.01,187.83 L428.51,190.72 L427.15,193.67 L425.93,196.66 L424.87,199.66 L423.96,202.67 L423.23,205.66 L422.66,208.62 L422.27,211.52 L422.05,214.34 L422.01,217.08 L422.15,219.71 L422.47,222.22 L422.96,224.59 L423.63,226.81 L424.46,228.86 L425.46,230.73 L426.61,232.41 L427.92,233.89 L429.36,235.16 L430.94,236.22" class="ir"/>
<path d="M472.78,164.48 L471.08,163.65 L469.27,163.06 L467.35,162.69 L465.35,162.56 L463.27,162.67 L461.12,163.01 L458.92,163.59 L456.69,164.40 L454.43,165.43 L452.16,166.68 L449.89,168.14 L447.65,169.80 L445.43,171.66 L443.26,173.69 L441.15,175.90 L439.11,178.25 L437.16,180.75 L435.30,183.37 L433.55,186.10 L431.92,188.92 L430.42,191.81 L429.05,194.76 L427.84,197.75 L426.77,200.76 L425.87,203.77 L425.13,206.76 L424.57,209.71 L424.17,212.61 L423.96,215.44 L423.92,218.18 L424.06,220.81 L424.38,223.32 L424.87,225.69 L425.54,227.90 L426.37,229.95 L427.37,231.83 L428.52,233.51 L429.82,234.99 L431.27,236.26 L432.85,237.31" class="ir"/>
<path d="M477.72,167.31 L476.02,166.49 L474.21,165.89 L472.29,165.53 L470.29,165.40 L468.21,165.50 L466.06,165.85 L463.86,166.42 L461.63,167.23 L459.37,168.26 L457.10,169.51 L454.84,170.97 L452.59,172.64 L450.37,174.49 L448.20,176.53 L446.09,178.73 L444.06,181.09 L442.10,183.58 L440.24,186.20 L438.49,188.93 L436.86,191.75 L435.36,194.65 L434.00,197.60 L432.78,200.58 L431.71,203.59 L430.81,206.60 L430.07,209.59 L429.51,212.54 L429.12,215.44 L428.90,218.27 L428.86,221.01 L429.00,223.64 L429.32,226.15 L429.81,228.52 L430.48,230.74 L431.31,232.79 L432.31,234.66 L433.46,236.34 L434.77,237.82 L436.21,239.09 L437.79,240.14" class="ir"/>
<path d="M479.54,168.36 L477.84,167.53 L476.03,166.93 L474.11,166.57 L472.11,166.44 L470.03,166.55 L467.88,166.89 L465.68,167.47 L463.45,168.27 L461.19,169.30 L458.92,170.56 L456.66,172.02 L454.41,173.68 L452.19,175.53 L450.03,177.57 L447.91,179.77 L445.88,182.13 L443.92,184.63 L442.06,187.25 L440.31,189.98 L438.68,192.80 L437.18,195.69 L435.82,198.64 L434.60,201.63 L433.54,204.63 L432.63,207.64 L431.90,210.63 L431.33,213.59 L430.94,216.49 L430.72,219.31 L430.68,222.05 L430.82,224.68 L431.14,227.19 L431.63,229.56 L432.30,231.78 L433.13,233.83 L434.13,235.70 L435.28,237.38 L436.59,238.86 L438.03,240.13 L439.61,241.19" class="ir"/>
<path d="M488.56,173.53 L486.86,172.70 L485.05,172.10 L483.13,171.74 L481.13,171.61 L479.05,171.72 L476.90,172.06 L474.70,172.64 L472.47,173.44 L470.21,174.47 L467.94,175.72 L465.67,177.19 L463.43,178.85 L461.21,180.70 L459.04,182.74 L456.93,184.94 L454.89,187.30 L452.94,189.79 L451.08,192.42 L449.33,195.14 L447.70,197.96 L446.20,200.86 L444.83,203.81 L443.62,206.80 L442.55,209.80 L441.65,212.81 L440.91,215.80 L440.35,218.76 L439.95,221.66 L439.74,224.48 L439.70,227.22 L439.84,229.85 L440.16,232.36 L440.65,234.73 L441.32,236.95 L442.15,239.00 L443.15,240.87 L444.30,242.55 L445.60,244.03 L447.05,245.30 L448.63,246.36" class="ir"/>
<path d="M489.86,174.27 L488.16,173.45 L486.35,172.85 L484.43,172.48 L482.43,172.35 L480.35,172.46 L478.20,172.80 L476.00,173.38 L473.77,174.19 L471.51,175.22 L469.24,176.47 L466.97,177.93 L464.73,179.59 L462.51,181.45 L460.34,183.48 L458.23,185.69 L456.19,188.04 L454.24,190.54 L452.38,193.16 L450.63,195.89 L449.00,198.71 L447.50,201.60 L446.13,204.55 L444.92,207.54 L443.85,210.55 L442.95,213.56 L442.21,216.55 L441.65,219.50 L441.25,222.40 L441.04,225.23 L441.00,227.97 L441.14,230.60 L441.46,233.11 L441.95,235.48 L442.62,237.69 L443.45,239.75 L444.45,241.62 L445.60,243.30 L446.90,244.78 L448.35,246.05 L449.93,247.10" class="ir"/>
<path d="M491.07,174.97 L489.37,174.14 L487.56,173.54 L485.65,173.18 L483.64,173.05 L481.56,173.16 L479.41,173.50 L477.22,174.08 L474.98,174.88 L472.72,175.91 L470.45,177.17 L468.19,178.63 L465.94,180.29 L463.73,182.14 L461.56,184.18 L459.45,186.38 L457.41,188.74 L455.45,191.24 L453.60,193.86 L451.85,196.59 L450.21,199.41 L448.71,202.30 L447.35,205.25 L446.13,208.24 L445.07,211.24 L444.16,214.25 L443.43,217.24 L442.86,220.20 L442.47,223.10 L442.25,225.92 L442.21,228.66 L442.36,231.29 L442.67,233.80 L443.17,236.17 L443.83,238.39 L444.66,240.44 L445.66,242.31 L446.81,243.99 L448.12,245.47 L449.56,246.74 L451.14,247.80" class="ir"/>
<path d="M493.16,176.16 L491.45,175.33 L489.64,174.74 L487.73,174.37 L485.72,174.24 L483.64,174.35 L481.49,174.69 L479.30,175.27 L477.06,176.08 L474.80,177.11 L472.53,178.36 L470.27,179.82 L468.02,181.48 L465.81,183.34 L463.64,185.37 L461.53,187.58 L459.49,189.93 L457.53,192.43 L455.68,195.05 L453.93,197.78 L452.30,200.60 L450.79,203.49 L449.43,206.44 L448.21,209.43 L447.15,212.44 L446.24,215.45 L445.51,218.44 L444.94,221.39 L444.55,224.29 L444.33,227.12 L444.30,229.85 L444.44,232.49 L444.75,234.99 L445.25,237.37 L445.91,239.58 L446.75,241.63 L447.74,243.51 L448.90,245.19 L450.20,246.67 L451.64,247.94 L453.22,248.99" class="ir"/>
<path d="M494.80,177.11 L493.10,176.28 L491.29,175.68 L489.37,175.32 L487.37,175.19 L485.29,175.29 L483.14,175.64 L480.94,176.21 L478.71,177.02 L476.45,178.05 L474.18,179.30 L471.92,180.76 L469.67,182.43 L467.45,184.28 L465.28,186.32 L463.17,188.52 L461.14,190.88 L459.18,193.37 L457.32,195.99 L455.57,198.72 L453.94,201.54 L452.44,204.44 L451.08,207.39 L449.86,210.37 L448.79,213.38 L447.89,216.39 L447.15,219.38 L446.59,222.33 L446.20,225.23 L445.98,228.06 L445.94,230.80 L446.08,233.43 L446.40,235.94 L446.89,238.31 L447.56,240.53 L448.39,242.58 L449.39,244.45 L450.54,246.13 L451.85,247.61 L453.29,248.88 L454.87,249.93" class="ir"/>
<path d="M496.80,178.25 L495.10,177.42 L493.28,176.82 L491.37,176.46 L489.36,176.33 L487.28,176.44 L485.14,176.78 L482.94,177.36 L480.70,178.16 L478.44,179.20 L476.17,180.45 L473.91,181.91 L471.66,183.57 L469.45,185.42 L467.28,187.46 L465.17,189.66 L463.13,192.02 L461.18,194.52 L459.32,197.14 L457.57,199.87 L455.94,202.69 L454.43,205.58 L453.07,208.53 L451.85,211.52 L450.79,214.52 L449.89,217.53 L449.15,220.52 L448.58,223.48 L448.19,226.38 L447.97,229.20 L447.94,231.94 L448.08,234.57 L448.40,237.08 L448.89,239.45 L449.55,241.67 L450.39,243.72 L451.38,245.59 L452.54,247.27 L453.84,248.75 L455.28,250.02 L456.86,251.08" class="ir"/>
<path d="M498.44,179.19 L496.74,178.37 L494.93,177.77 L493.02,177.40 L491.01,177.27 L488.93,177.38 L486.78,177.72 L484.59,178.30 L482.35,179.11 L480.09,180.14 L477.82,181.39 L475.56,182.85 L473.31,184.51 L471.10,186.37 L468.93,188.40 L466.82,190.61 L464.78,192.96 L462.82,195.46 L460.96,198.08 L459.21,200.81 L457.58,203.63 L456.08,206.52 L454.72,209.47 L453.50,212.46 L452.44,215.47 L451.53,218.48 L450.80,221.47 L450.23,224.42 L449.84,227.32 L449.62,230.15 L449.58,232.89 L449.72,235.52 L450.04,238.03 L450.54,240.40 L451.20,242.61 L452.03,244.67 L453.03,246.54 L454.18,248.22 L455.49,249.70 L456.93,250.97 L458.51,252.02" class="ir"/>
<path d="M500.44,180.34 L498.74,179.51 L496.92,178.91 L495.01,178.55 L493.00,178.42 L490.92,178.52 L488.78,178.87 L486.58,179.44 L484.34,180.25 L482.09,181.28 L479.82,182.53 L477.55,183.99 L475.30,185.66 L473.09,187.51 L470.92,189.55 L468.81,191.75 L466.77,194.11 L464.82,196.60 L462.96,199.22 L461.21,201.95 L459.58,204.77 L458.08,207.67 L456.71,210.62 L455.49,213.60 L454.43,216.61 L453.53,219.62 L452.79,222.61 L452.22,225.56 L451.83,228.46 L451.62,231.29 L451.58,234.03 L451.72,236.66 L452.04,239.17 L452.53,241.54 L453.19,243.76 L454.03,245.81 L455.02,247.68 L456.18,249.36 L457.48,250.84 L458.93,252.11 L460.50,253.16" class="ir"/>
<path d="M502.00,181.23 L500.30,180.40 L498.48,179.81 L496.57,179.44 L494.57,179.31 L492.48,179.42 L490.34,179.76 L488.14,180.34 L485.90,181.15 L483.65,182.18 L481.38,183.43 L479.11,184.89 L476.87,186.55 L474.65,188.41 L472.48,190.44 L470.37,192.64 L468.33,195.00 L466.38,197.50 L464.52,200.12 L462.77,202.85 L461.14,205.67 L459.64,208.56 L458.27,211.51 L457.05,214.50 L455.99,217.51 L455.09,220.51 L454.35,223.50 L453.78,226.46 L453.39,229.36 L453.18,232.19 L453.14,234.92 L453.28,237.56 L453.60,240.06 L454.09,242.43 L454.76,244.65 L455.59,246.70 L456.59,248.58 L457.74,250.26 L459.04,251.74 L460.49,253.01 L462.06,254.06" class="ir"/>
<path d="M504.43,182.62 L502.73,181.80 L500.91,181.20 L499.00,180.83 L496.99,180.70 L494.91,180.81 L492.76,181.15 L490.57,181.73 L488.33,182.54 L486.07,183.57 L483.80,184.82 L481.54,186.28 L479.29,187.94 L477.08,189.80 L474.91,191.83 L472.80,194.04 L470.76,196.39 L468.80,198.89 L466.95,201.51 L465.20,204.24 L463.57,207.06 L462.06,209.95 L460.70,212.90 L459.48,215.89 L458.42,218.90 L457.52,221.91 L456.78,224.90 L456.21,227.85 L455.82,230.75 L455.60,233.58 L455.57,236.32 L455.71,238.95 L456.02,241.46 L456.52,243.83 L457.18,246.04 L458.02,248.09 L459.01,249.97 L460.17,251.65 L461.47,253.13 L462.91,254.40 L464.49,255.45" class="ir"/>
<path d="M505.99,183.52 L504.29,182.69 L502.47,182.09 L500.56,181.73 L498.55,181.60 L496.47,181.71 L494.33,182.05 L492.13,182.63 L489.89,183.43 L487.63,184.46 L485.37,185.71 L483.10,187.17 L480.85,188.84 L478.64,190.69 L476.47,192.73 L474.36,194.93 L472.32,197.29 L470.37,199.78 L468.51,202.41 L466.76,205.13 L465.13,207.95 L463.62,210.85 L462.26,213.80 L461.04,216.79 L459.98,219.79 L459.08,222.80 L458.34,225.79 L457.77,228.75 L457.38,231.64 L457.17,234.47 L457.13,237.21 L457.27,239.84 L457.59,242.35 L458.08,244.72 L458.74,246.94 L459.58,248.99 L460.57,250.86 L461.73,252.54 L463.03,254.02 L464.48,255.29 L466.05,256.34" class="ir"/>
<path d="M507.89,184.61 L506.19,183.78 L504.38,183.19 L502.47,182.82 L500.46,182.69 L498.38,182.80 L496.23,183.14 L494.04,183.72 L491.80,184.53 L489.54,185.56 L487.27,186.81 L485.01,188.27 L482.76,189.93 L480.55,191.79 L478.38,193.82 L476.27,196.02 L474.23,198.38 L472.27,200.88 L470.41,203.50 L468.67,206.23 L467.03,209.05 L465.53,211.94 L464.17,214.89 L462.95,217.88 L461.89,220.89 L460.98,223.89 L460.25,226.88 L459.68,229.84 L459.29,232.74 L459.07,235.57 L459.03,238.30 L459.18,240.94 L459.49,243.44 L459.99,245.81 L460.65,248.03 L461.48,250.08 L462.48,251.95 L463.63,253.64 L464.94,255.12 L466.38,256.39 L467.96,257.44" class="ir"/>
<path d="M510.15,185.90 L508.45,185.08 L506.63,184.48 L504.72,184.11 L502.72,183.98 L500.63,184.09 L498.49,184.43 L496.29,185.01 L494.05,185.82 L491.80,186.85 L489.53,188.10 L487.26,189.56 L485.02,191.22 L482.80,193.08 L480.63,195.11 L478.52,197.32 L476.48,199.67 L474.53,202.17 L472.67,204.79 L470.92,207.52 L469.29,210.34 L467.79,213.23 L466.42,216.18 L465.20,219.17 L464.14,222.18 L463.24,225.19 L462.50,228.18 L461.93,231.13 L461.54,234.03 L461.33,236.86 L461.29,239.60 L461.43,242.23 L461.75,244.74 L462.24,247.11 L462.91,249.32 L463.74,251.38 L464.74,253.25 L465.89,254.93 L467.19,256.41 L468.64,257.68 L470.21,258.73" class="ir"/>
<path d="M517.52,190.13 L515.82,189.30 L514.00,188.70 L512.09,188.34 L510.08,188.21 L508.00,188.32 L505.86,188.66 L503.66,189.24 L501.42,190.04 L499.17,191.07 L496.90,192.32 L494.63,193.78 L492.38,195.45 L490.17,197.30 L488.00,199.34 L485.89,201.54 L483.85,203.90 L481.90,206.39 L480.04,209.02 L478.29,211.74 L476.66,214.56 L475.16,217.46 L473.79,220.41 L472.57,223.40 L471.51,226.40 L470.61,229.41 L469.87,232.40 L469.30,235.36 L468.91,238.26 L468.70,241.08 L468.66,243.82 L468.80,246.45 L469.12,248.96 L469.61,251.33 L470.27,253.55 L471.11,255.60 L472.10,257.47 L473.26,259.15 L474.56,260.63 L476.01,261.90 L477.58,262.95" class="ir"/>
<path d="M519.17,191.07 L517.46,190.24 L515.65,189.65 L513.74,189.28 L511.73,189.15 L509.65,189.26 L507.50,189.60 L505.31,190.18 L503.07,190.99 L500.81,192.02 L498.54,193.27 L496.28,194.73 L494.03,196.39 L491.82,198.25 L489.65,200.28 L487.54,202.49 L485.50,204.84 L483.54,207.34 L481.69,209.96 L479.94,212.69 L478.31,215.51 L476.80,218.40 L475.44,221.35 L474.22,224.34 L473.16,227.35 L472.25,230.36 L471.52,233.35 L470.95,236.30 L470.56,239.20 L470.34,242.03 L470.31,244.76 L470.45,247.40 L470.76,249.90 L471.26,252.28 L471.92,254.49 L472.76,256.54 L473.75,258.42 L474.91,260.10 L476.21,261.58 L477.65,262.85 L479.23,263.90" class="ir"/>
<path d="M521.68,192.51 L519.98,191.69 L518.17,191.09 L516.25,190.72 L514.25,190.59 L512.16,190.70 L510.02,191.04 L507.82,191.62 L505.59,192.43 L503.33,193.46 L501.06,194.71 L498.79,196.17 L496.55,197.83 L494.33,199.69 L492.16,201.72 L490.05,203.93 L488.01,206.28 L486.06,208.78 L484.20,211.40 L482.45,214.13 L480.82,216.95 L479.32,219.84 L477.95,222.79 L476.74,225.78 L475.67,228.79 L474.77,231.80 L474.03,234.79 L473.47,237.74 L473.07,240.64 L472.86,243.47 L472.82,246.21 L472.96,248.84 L473.28,251.35 L473.77,253.72 L474.44,255.93 L475.27,257.99 L476.27,259.86 L477.42,261.54 L478.72,263.02 L480.17,264.29 L481.75,265.34" class="ir"/>
<path d="M523.24,193.41 L521.54,192.58 L519.73,191.98 L517.81,191.62 L515.81,191.49 L513.73,191.60 L511.58,191.94 L509.38,192.52 L507.15,193.32 L504.89,194.35 L502.62,195.60 L500.35,197.07 L498.11,198.73 L495.89,200.58 L493.72,202.62 L491.61,204.82 L489.57,207.18 L487.62,209.67 L485.76,212.30 L484.01,215.02 L482.38,217.84 L480.88,220.74 L479.51,223.69 L478.30,226.68 L477.23,229.68 L476.33,232.69 L475.59,235.68 L475.03,238.64 L474.63,241.54 L474.42,244.36 L474.38,247.10 L474.52,249.73 L474.84,252.24 L475.33,254.61 L476.00,256.83 L476.83,258.88 L477.83,260.75 L478.98,262.43 L480.28,263.91 L481.73,265.18 L483.31,266.24" class="ir"/>
<path d="M525.32,194.60 L523.62,193.77 L521.81,193.17 L519.89,192.81 L517.89,192.68 L515.81,192.79 L513.66,193.13 L511.46,193.71 L509.23,194.51 L506.97,195.55 L504.70,196.80 L502.43,198.26 L500.19,199.92 L497.97,201.78 L495.80,203.81 L493.69,206.01 L491.65,208.37 L489.70,210.87 L487.84,213.49 L486.09,216.22 L484.46,219.04 L482.96,221.93 L481.59,224.88 L480.38,227.87 L479.31,230.88 L478.41,233.88 L477.67,236.87 L477.11,239.83 L476.71,242.73 L476.50,245.56 L476.46,248.29 L476.60,250.92 L476.92,253.43 L477.41,255.80 L478.08,258.02 L478.91,260.07 L479.91,261.94 L481.06,263.63 L482.36,265.11 L483.81,266.38 L485.39,267.43" class="ir"/>
<path d="M526.88,195.49 L525.18,194.67 L523.37,194.07 L521.45,193.70 L519.45,193.58 L517.37,193.68 L515.22,194.03 L513.02,194.60 L510.79,195.41 L508.53,196.44 L506.26,197.69 L504.00,199.15 L501.75,200.82 L499.53,202.67 L497.36,204.71 L495.25,206.91 L493.21,209.27 L491.26,211.76 L489.40,214.38 L487.65,217.11 L486.02,219.93 L484.52,222.83 L483.16,225.78 L481.94,228.76 L480.87,231.77 L479.97,234.78 L479.23,237.77 L478.67,240.72 L478.28,243.62 L478.06,246.45 L478.02,249.19 L478.16,251.82 L478.48,254.33 L478.97,256.70 L479.64,258.92 L480.47,260.97 L481.47,262.84 L482.62,264.52 L483.92,266.00 L485.37,267.27 L486.95,268.32" class="ir"/>
<path d="M528.88,196.64 L527.18,195.81 L525.36,195.21 L523.45,194.85 L521.44,194.72 L519.36,194.83 L517.21,195.17 L515.02,195.75 L512.78,196.55 L510.52,197.58 L508.25,198.83 L505.99,200.30 L503.74,201.96 L501.53,203.81 L499.36,205.85 L497.25,208.05 L495.21,210.41 L493.25,212.91 L491.40,215.53 L489.65,218.25 L488.02,221.07 L486.51,223.97 L485.15,226.92 L483.93,229.91 L482.87,232.91 L481.96,235.92 L481.23,238.91 L480.66,241.87 L480.27,244.77 L480.05,247.59 L480.02,250.33 L480.16,252.96 L480.47,255.47 L480.97,257.84 L481.63,260.06 L482.47,262.11 L483.46,263.98 L484.62,265.66 L485.92,267.14 L487.36,268.41 L488.94,269.47" class="ir"/>
<path d="M530.87,197.78 L529.17,196.95 L527.36,196.36 L525.44,195.99 L523.44,195.86 L521.35,195.97 L519.21,196.31 L517.01,196.89 L514.78,197.70 L512.52,198.73 L510.25,199.98 L507.98,201.44 L505.74,203.10 L503.52,204.96 L501.35,206.99 L499.24,209.19 L497.20,211.55 L495.25,214.05 L493.39,216.67 L491.64,219.40 L490.01,222.22 L488.51,225.11 L487.14,228.06 L485.93,231.05 L484.86,234.06 L483.96,237.06 L483.22,240.05 L482.66,243.01 L482.26,245.91 L482.05,248.74 L482.01,251.47 L482.15,254.11 L482.47,256.61 L482.96,258.98 L483.63,261.20 L484.46,263.25 L485.46,265.13 L486.61,266.81 L487.91,268.29 L489.36,269.56 L490.94,270.61" class="ir"/>
<path d="M532.78,198.87 L531.08,198.05 L529.26,197.45 L527.35,197.08 L525.34,196.96 L523.26,197.06 L521.12,197.41 L518.92,197.98 L516.68,198.79 L514.42,199.82 L512.16,201.07 L509.89,202.53 L507.64,204.20 L505.43,206.05 L503.26,208.09 L501.15,210.29 L499.11,212.65 L497.16,215.14 L495.30,217.76 L493.55,220.49 L491.92,223.31 L490.41,226.21 L489.05,229.16 L487.83,232.14 L486.77,235.15 L485.87,238.16 L485.13,241.15 L484.56,244.10 L484.17,247.00 L483.96,249.83 L483.92,252.57 L484.06,255.20 L484.38,257.71 L484.87,260.08 L485.53,262.30 L486.37,264.35 L487.36,266.22 L488.52,267.90 L489.82,269.38 L491.27,270.65 L492.84,271.70" class="ir"/>
<path d="M534.68,199.97 L532.98,199.14 L531.17,198.54 L529.26,198.18 L527.25,198.05 L525.17,198.16 L523.02,198.50 L520.83,199.08 L518.59,199.88 L516.33,200.91 L514.06,202.16 L511.80,203.63 L509.55,205.29 L507.34,207.14 L505.17,209.18 L503.06,211.38 L501.02,213.74 L499.06,216.24 L497.21,218.86 L495.46,221.58 L493.82,224.40 L492.32,227.30 L490.96,230.25 L489.74,233.24 L488.68,236.24 L487.77,239.25 L487.04,242.24 L486.47,245.20 L486.08,248.10 L485.86,250.92 L485.83,253.66 L485.97,256.29 L486.28,258.80 L486.78,261.17 L487.44,263.39 L488.27,265.44 L489.27,267.31 L490.42,268.99 L491.73,270.47 L493.17,271.74 L494.75,272.80" class="ir"/>
<path d="M536.59,201.06 L534.89,200.23 L533.08,199.64 L531.16,199.27 L529.16,199.14 L527.08,199.25 L524.93,199.59 L522.73,200.17 L520.50,200.98 L518.24,202.01 L515.97,203.26 L513.71,204.72 L511.46,206.38 L509.24,208.24 L507.07,210.27 L504.96,212.47 L502.92,214.83 L500.97,217.33 L499.11,219.95 L497.36,222.68 L495.73,225.50 L494.23,228.39 L492.87,231.34 L491.65,234.33 L490.58,237.34 L489.68,240.34 L488.94,243.34 L488.38,246.29 L487.99,249.19 L487.77,252.02 L487.73,254.75 L487.87,257.39 L488.19,259.89 L488.68,262.27 L489.35,264.48 L490.18,266.53 L491.18,268.41 L492.33,270.09 L493.64,271.57 L495.08,272.84 L496.66,273.89" class="ir"/>
<path d="M538.07,201.91 L536.37,201.08 L534.55,200.48 L532.64,200.12 L530.63,199.99 L528.55,200.09 L526.40,200.44 L524.21,201.01 L521.97,201.82 L519.71,202.85 L517.44,204.10 L515.18,205.56 L512.93,207.23 L510.72,209.08 L508.55,211.12 L506.44,213.32 L504.40,215.68 L502.44,218.17 L500.59,220.79 L498.84,223.52 L497.21,226.34 L495.70,229.24 L494.34,232.19 L493.12,235.17 L492.06,238.18 L491.16,241.19 L490.42,244.18 L489.85,247.13 L489.46,250.03 L489.24,252.86 L489.21,255.60 L489.35,258.23 L489.66,260.74 L490.16,263.11 L490.82,265.33 L491.66,267.38 L492.65,269.25 L493.81,270.93 L495.11,272.41 L496.55,273.68 L498.13,274.73" class="ir"/>
<path d="M539.97,203.00 L538.27,202.17 L536.46,201.57 L534.54,201.21 L532.54,201.08 L530.46,201.19 L528.31,201.53 L526.11,202.11 L523.88,202.91 L521.62,203.95 L519.35,205.20 L517.09,206.66 L514.84,208.32 L512.62,210.18 L510.46,212.21 L508.34,214.41 L506.31,216.77 L504.35,219.27 L502.49,221.89 L500.74,224.62 L499.11,227.44 L497.61,230.33 L496.25,233.28 L495.03,236.27 L493.97,239.28 L493.06,242.28 L492.33,245.27 L491.76,248.23 L491.37,251.13 L491.15,253.95 L491.11,256.69 L491.25,259.32 L491.57,261.83 L492.06,264.20 L492.73,266.42 L493.56,268.47 L494.56,270.34 L495.71,272.03 L497.02,273.51 L498.46,274.78 L500.04,275.83" class="ir"/>
<path d="M548.30,207.77 L546.60,206.94 L544.78,206.35 L542.87,205.98 L540.86,205.85 L538.78,205.96 L536.64,206.30 L534.44,206.88 L532.20,207.69 L529.94,208.72 L527.67,209.97 L525.41,211.43 L523.16,213.09 L520.95,214.95 L518.78,216.98 L516.67,219.18 L514.63,221.54 L512.67,224.04 L510.82,226.66 L509.07,229.39 L507.44,232.21 L505.93,235.10 L504.57,238.05 L503.35,241.04 L502.29,244.05 L501.39,247.05 L500.65,250.04 L500.08,253.00 L499.69,255.90 L499.47,258.73 L499.44,261.46 L499.58,264.10 L499.90,266.60 L500.39,268.97 L501.05,271.19 L501.89,273.24 L502.88,275.12 L504.04,276.80 L505.34,278.28 L506.78,279.55 L508.36,280.60" class="ir"/>
<path d="M552.46,210.16 L550.76,209.33 L548.94,208.73 L547.03,208.37 L545.02,208.24 L542.94,208.34 L540.80,208.69 L538.60,209.26 L536.36,210.07 L534.11,211.10 L531.84,212.35 L529.57,213.81 L527.32,215.48 L525.11,217.33 L522.94,219.37 L520.83,221.57 L518.79,223.93 L516.84,226.42 L514.98,229.04 L513.23,231.77 L511.60,234.59 L510.10,237.49 L508.73,240.44 L507.51,243.42 L506.45,246.43 L505.55,249.44 L504.81,252.43 L504.24,255.38 L503.85,258.28 L503.64,261.11 L503.60,263.85 L503.74,266.48 L504.06,268.99 L504.55,271.36 L505.21,273.58 L506.05,275.63 L507.04,277.50 L508.20,279.18 L509.50,280.66 L510.95,281.93 L512.52,282.98" class="ir"/>
<path d="M554.54,211.35 L552.84,210.52 L551.02,209.92 L549.11,209.56 L547.11,209.43 L545.02,209.54 L542.88,209.88 L540.68,210.46 L538.45,211.26 L536.19,212.30 L533.92,213.55 L531.65,215.01 L529.41,216.67 L527.19,218.52 L525.02,220.56 L522.91,222.76 L520.87,225.12 L518.92,227.62 L517.06,230.24 L515.31,232.97 L513.68,235.79 L512.18,238.68 L510.81,241.63 L509.59,244.62 L508.53,247.62 L507.63,250.63 L506.89,253.62 L506.32,256.58 L505.93,259.48 L505.72,262.30 L505.68,265.04 L505.82,267.67 L506.14,270.18 L506.63,272.55 L507.30,274.77 L508.13,276.82 L509.13,278.69 L510.28,280.37 L511.58,281.85 L513.03,283.12 L514.60,284.18" class="ir"/>
<path d="M486.48,172.33 L484.78,171.51 L482.97,170.91 L481.05,170.54 L479.05,170.42 L476.96,170.52 L474.82,170.87 L472.62,171.44 L470.39,172.25 L468.13,173.28 L465.86,174.53 L463.59,175.99 L461.35,177.66 L459.13,179.51 L456.96,181.55 L454.85,183.75 L452.81,186.11 L450.86,188.60 L449.00,191.22 L447.25,193.95 L445.62,196.77 L444.12,199.67 L442.75,202.62 L441.54,205.60 L440.47,208.61 L439.57,211.62 L438.83,214.61 L438.27,217.56 L437.87,220.46 L437.66,223.29 L437.62,226.03 L437.76,228.66 L438.08,231.17 L438.57,233.54 L439.24,235.76 L440.07,237.81 L441.07,239.68 L442.22,241.36 L443.52,242.84 L444.97,244.11 L446.55,245.16" class="irk"/>
<path d="M546.22,206.58 L544.52,205.75 L542.70,205.15 L540.79,204.79 L538.78,204.66 L536.70,204.77 L534.55,205.11 L532.36,205.69 L530.12,206.49 L527.86,207.52 L525.59,208.77 L523.33,210.24 L521.08,211.90 L518.87,213.75 L516.70,215.79 L514.59,217.99 L512.55,220.35 L510.59,222.85 L508.74,225.47 L506.99,228.19 L505.36,231.01 L503.85,233.91 L502.49,236.86 L501.27,239.85 L500.21,242.85 L499.30,245.86 L498.57,248.85 L498.00,251.81 L497.61,254.71 L497.39,257.53 L497.36,260.27 L497.50,262.90 L497.81,265.41 L498.31,267.78 L498.97,270.00 L499.81,272.05 L500.80,273.92 L501.96,275.60 L503.26,277.08 L504.70,278.35 L506.28,279.41" class="irk"/>
<path d="M447.00,165.23 L456.20,159.97 L485.68,176.87 L476.48,182.13 Z" class="iw" />
<path d="M447.00,165.23 L476.48,182.13 L476.48,185.73 L447.00,168.83 Z" class="iw" />
<path d="M447.00,165.23 L456.20,159.97 L456.20,163.57 L447.00,168.83 Z" class="iw" />
<path d="M504.22,198.03 L513.42,192.77 L544.37,210.52 L535.17,215.77 Z" class="iw" />
<path d="M504.22,198.03 L535.17,215.77 L535.17,219.37 L504.22,201.63 Z" class="iw" />
<path d="M535.17,215.77 L544.37,210.52 L544.37,217.72 L535.17,222.97 Z" class="iw" />
<path d="M504.22,198.03 L535.17,215.77 L535.17,222.97 L504.22,205.23 Z" class="iw" />
<path d="M513.42,192.27 L546.37,211.16 L561.74,215.47 L528.79,196.59 Z" class="hatchb" />
<path d="M438.04,232.59 Q441.54,251.18 458.00,253.18 L458.00,254.18 L438.04,265.59 Z" class="iw" />
<path d="M427.98,225.83 L438.04,231.59 L438.04,265.59 L427.98,259.83 Z" class="iw" />
<line x1="437.74" y1="231.59" x2="437.74" y2="265.59" class="thk2"/>
<line x1="431.8" y1="228.02" x2="431.8" y2="262.02" class="io"/>
<path d="M468.99,250.33 Q472.49,268.93 488.95,270.93 L488.95,271.93 L468.99,283.33 Z" class="iw" />
<path d="M459.02,243.62 L468.99,249.33 L468.99,283.33 L459.02,277.62 Z" class="iw" />
<line x1="468.69" y1="249.33" x2="468.69" y2="283.33" class="thk2"/>
<line x1="462.81" y1="245.79" x2="462.81" y2="279.79" class="io"/>
<path d="M500.03,268.13 Q503.53,286.72 519.99,288.72 L519.99,289.72 L500.03,301.13 Z" class="iw" />
<path d="M489.97,261.36 L500.03,267.13 L500.03,301.13 L489.97,295.36 Z" class="iw" />
<line x1="499.73" y1="267.13" x2="499.73" y2="301.13" class="thk2"/>
<line x1="493.79" y1="263.55" x2="493.79" y2="297.55" class="io"/>
<path d="M420.00,218.25 L507.57,268.45 C530,266.8 561,252.5 572.3,232.2 L572.3,235.8 C560,255.3 530,269.6 507.57,271.25 L420.00,221.05 Q418.40,219.65 420.00,218.25 Z" class="iw" />
<line x1="507.57" y1="268.45" x2="507.57" y2="271.25" class="io"/>
<path d="M561.24,215.22 L562.39,216.06 L563.46,217.02 L564.45,218.09 L565.36,219.28 L566.19,220.58 L566.93,221.99 L567.57,223.49 L568.13,225.09 L568.59,226.78 L568.95,228.56 L569.22,230.41 L569.38,232.33 L569.45,234.32 L569.42,236.37 L569.29,238.46 L569.06,240.60 L568.73,242.78 L568.31,244.99 L567.79,247.22 L567.18,249.46 L566.47,251.70 L565.68,253.95 L564.80,256.19 L563.83,258.41 L562.79,260.60 L561.67,262.76 L560.48,264.88 L559.21,266.96 L557.89,268.98 L556.50,270.94 L555.06,272.83 L553.57,274.65 L552.04,276.38 L550.47,278.03 L548.86,279.59 L547.22,281.05 L545.56,282.41 L543.88,283.66 L542.20,284.80 L540.50,285.82 L538.81,286.73 L537.12,287.51 L535.45,288.16 L533.79,288.69 L532.15,289.09 L530.55,289.37 L528.97,289.50 L527.44,289.51 L525.96,289.39 L524.52,289.13" class="ir2"/>
<path d="M534.6,246.5 L537.3,244.6 L539.6,245.6 L539.6,250.2 L536.9,252.1 L534.6,251.1 Z" class="iw" stroke-width="0.6"/>
<path d="M534.6,246.5 L536.9,247.5 L539.6,245.6 M536.9,247.5 L536.9,252.1" class="io" stroke-width="0.5"/>
<path d="M541,245 L547.7,241.3 M541.3,247 L546.3,244.6" stroke="#111" stroke-width="1.3"/>
<path d="M535.3,255.3 L554.3,243.8" stroke="#111" stroke-width="1.2"/>
<path d="M533,286 L544,281 L545.5,284 L534.5,289.5 Z" class="iw" />
<path d="M469.9,186.4 C470.4,196.4 474.4,207.4 484.0,210.20000000000002 C492.0,211.4 502.0,211.0 511.0,200.9 L522.1,186.4 Z" class="iw" />
<path d="M469.4,143.10000000000002 L469.4,186.4 A26.6,13.2 0 0 0 522.6,186.4 L522.6,143.10000000000002 Z" fill="#fff" stroke="#222" stroke-width="0.7"/>
<path d="M469.4,143.10 A26.6,13.2 0 0 0 522.6,143.10 L522.6,146.80 A26.6,13.2 0 0 1 469.4,146.80 Z" fill="#fff" stroke="#222" stroke-width="0.6"/>
<path d="M469.4,147.40 A26.6,13.2 0 0 0 522.6,147.40 L522.6,153.80 A26.6,13.2 0 0 1 469.4,153.80 Z" fill="url(#nrg)" stroke="#222" stroke-width="0.8"/>
<path d="M470.2,153.80 A25.8,13.2 0 0 0 521.8,153.80 L521.8,159.50 A25.8,13.2 0 0 1 470.2,159.50 Z" fill="url(#nh)" stroke="#222" stroke-width="0.6"/>
<path d="M469.4,159.50 A26.6,13.2 0 0 0 522.6,159.50 L522.6,165.10 A26.6,13.2 0 0 1 469.4,165.10 Z" fill="url(#nrg)" stroke="#222" stroke-width="0.8"/>
<path d="M470.2,165.10 A25.8,13.2 0 0 0 521.8,165.10 L521.8,170.10 A25.8,13.2 0 0 1 470.2,170.10 Z" fill="url(#nh)" stroke="#222" stroke-width="0.6"/>
<path d="M469.4,170.10 A26.6,13.2 0 0 0 522.6,170.10 L522.6,175.00 A26.6,13.2 0 0 1 469.4,175.00 Z" fill="url(#nrg)" stroke="#222" stroke-width="0.8"/>
<path d="M470.2,175.00 A25.8,13.2 0 0 0 521.8,175.00 L521.8,180.00 A25.8,13.2 0 0 1 470.2,180.00 Z" fill="url(#nh)" stroke="#222" stroke-width="0.6"/>
<path d="M469.4,180.00 A26.6,13.2 0 0 0 522.6,180.00 L522.6,186.40 A26.6,13.2 0 0 1 469.4,186.40 Z" fill="url(#nrg)" stroke="#222" stroke-width="0.8"/>
<path d="M469.4,186.4 A26.6,13.2 0 0 0 522.6,186.4" fill="none" stroke="#111" stroke-width="1.5"/>
<rect x="474.8" y="162.73" width="5.6" height="5.9" rx="0" class="io" style="fill:#fff" stroke-width="0.6"/>
<line x1="475.4" y1="162.73" x2="475.4" y2="168.63" class="thk2"/>
<line x1="479.8" y1="162.73" x2="479.8" y2="168.63" class="thk2"/>
<rect x="509.6" y="163.47" width="6.2" height="5.9" rx="0" class="io" style="fill:#fff" stroke-width="0.6"/>
<line x1="510.2" y1="163.47" x2="510.2" y2="169.37" class="thk2"/>
<line x1="515.2" y1="163.47" x2="515.2" y2="169.37" class="thk2"/>
<rect x="474.8" y="174.03" width="5.6" height="5.2" rx="0" class="io" style="fill:#fff" stroke-width="0.6"/>
<line x1="475.4" y1="174.03" x2="475.4" y2="179.23" class="thk2"/>
<line x1="479.8" y1="174.03" x2="479.8" y2="179.23" class="thk2"/>
<rect x="509.6" y="174.77" width="6.2" height="5.2" rx="0" class="io" style="fill:#fff" stroke-width="0.6"/>
<line x1="510.2" y1="174.77" x2="510.2" y2="179.97" class="thk2"/>
<line x1="515.2" y1="174.77" x2="515.2" y2="179.97" class="thk2"/>
<rect x="474.8" y="183.93" width="5.6" height="5.2" rx="0" class="io" style="fill:#fff" stroke-width="0.6"/>
<line x1="475.4" y1="183.93" x2="475.4" y2="189.13" class="thk2"/>
<line x1="479.8" y1="183.93" x2="479.8" y2="189.13" class="thk2"/>
<rect x="509.6" y="184.67" width="6.2" height="5.2" rx="0" class="io" style="fill:#fff" stroke-width="0.6"/>
<line x1="510.2" y1="184.67" x2="510.2" y2="189.87" class="thk2"/>
<line x1="515.2" y1="184.67" x2="515.2" y2="189.87" class="thk2"/>
<ellipse cx="496.0" cy="143.10000000000002" rx="26.6" ry="13.2" fill="#fff" stroke="#222" stroke-width="0.8"/>
<ellipse cx="496.0" cy="143.10000000000002" rx="25.400000000000002" ry="12.299999999999999" fill="#1d1d1d" stroke="#111" stroke-width="0.6"/>
<ellipse cx="496.0" cy="143.3" rx="22.6" ry="10.799999999999999" fill="none" stroke="#ddd" stroke-width="1.1" stroke-dasharray="0.9 1.4"/>
<ellipse cx="496.0" cy="143.3" rx="19.8" ry="9.299999999999999" fill="url(#lidst)" stroke="#111" stroke-width="0.6"/>
<path d="M477.4,143.10000000000002 L514.6,143.10000000000002 M496.0,133.90000000000003 L496.0,152.8" stroke="#111" stroke-width="2.4"/>
<g transform="translate(496.0,143.50000000000003) rotate(-26)"><rect x="-6.2" y="-2.8" width="12.4" height="5.6" fill="#fff" stroke="#111" stroke-width="0.8"/><rect x="-4" y="-1.1" width="8" height="2.2" fill="#333"/></g>
</svg></body></html>
